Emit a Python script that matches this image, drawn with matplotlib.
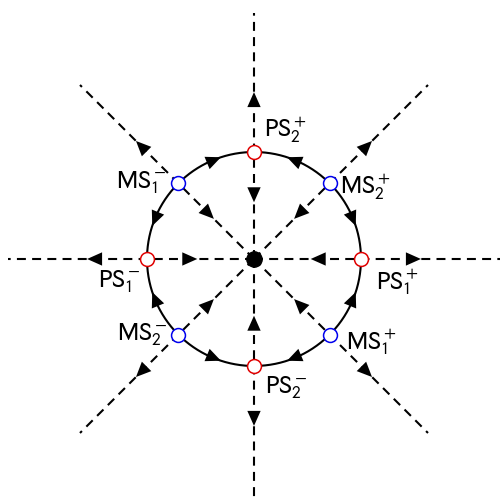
import numpy as np
import matplotlib
matplotlib.use("Agg")
from matplotlib import pyplot as plt
from matplotlib.patches import FancyArrowPatch

plt.rcParams['mathtext.fontset'] = 'stixsans'

# fixed points on the unit circle (angle in degrees)
ps_angles = [0, 90, 180, 270]
ps_labels = [r'$\mathrm{PS}_1^+$', r'$\mathrm{PS}_2^+$', r'$\mathrm{PS}_1^-$', r'$\mathrm{PS}_2^-$']
ms_angles = [315, 45, 135, 225]
ms_labels = [r'$\mathrm{MS}_1^+$', r'$\mathrm{MS}_2^+$', r'$\mathrm{MS}_1^-$', r'$\mathrm{MS}_2^-$']

# label anchors (x, y, ha) in circle units
ps_label_pos = [(1.14, -0.20, 'left'), (0.09, 1.22, 'left'), (-1.06, -0.20, 'right'), (0.10, -1.19, 'left')]
ms_label_pos = [(0.86, -0.76, 'left'), (0.80, 0.68, 'left'), (-0.82, 0.72, 'right'), (-0.81, -0.70, 'right')]

ray_angles = [0, 45, 90, 135, 180, 225, 270, 315]
ray_len = 2.3
inner_tip = 0.53
outer_tip = 1.56
head = 0.13


def add_arrow(ax, tail, tip):
	a = FancyArrowPatch(tail, tip, arrowstyle='-|>,head_length=0.45,head_width=0.2',
		mutation_scale=24, color='k', lw=0, shrinkA=0, shrinkB=0, zorder=4)
	ax.add_patch(a)


fig = plt.figure(figsize=(5.02, 5.02), dpi=100)
ax = fig.add_axes([0, 0, 1, 1])
ax.set_xlim(-2.374, 2.318)
ax.set_ylim(-2.262, 2.43)
ax.set_aspect('equal')
ax.axis('off')

# dashed rays with arrows: inward inside the circle, outward outside
for ang in ray_angles:
	t = np.deg2rad(ang)
	d = np.array([np.cos(t), np.sin(t)])
	ax.plot([0, ray_len * d[0]], [0, ray_len * d[1]], color='k', lw=1.5,
		dashes=(4.3, 3), zorder=1)
	add_arrow(ax, (inner_tip + head) * d, inner_tip * d)
	add_arrow(ax, (outer_tip - head) * d, outer_tip * d)

# circle
th = np.linspace(0, 2 * np.pi, 400)
ax.plot(np.cos(th), np.sin(th), color='k', lw=1.5, zorder=2)

# arrows along the circle, away from the MS points
for m in ms_angles:
	for s in (1, -1):
		a0 = np.deg2rad(m + s * 18)
		a1 = np.deg2rad(m + s * 27)
		add_arrow(ax, (np.cos(a0), np.sin(a0)), (np.cos(a1), np.sin(a1)))

# fixed points
for ang in ps_angles:
	t = np.deg2rad(ang)
	ax.plot(np.cos(t), np.sin(t), 'o', ms=10, mfc='white', mec='#e00000', mew=1.1, zorder=5)
for ang in ms_angles:
	t = np.deg2rad(ang)
	ax.plot(np.cos(t), np.sin(t), 'o', ms=10, mfc='white', mec='#0000ee', mew=1.1, zorder=5)
ax.plot(0, 0, 'o', ms=11, color='k', zorder=5)

for lab, (x, y, ha) in zip(ps_labels, ps_label_pos):
	ax.text(x, y, lab, ha=ha, va='center', fontsize=18)
for lab, (x, y, ha) in zip(ms_labels, ms_label_pos):
	ax.text(x, y, lab, ha=ha, va='center', fontsize=18)

fig.savefig('out.png', dpi=100)
